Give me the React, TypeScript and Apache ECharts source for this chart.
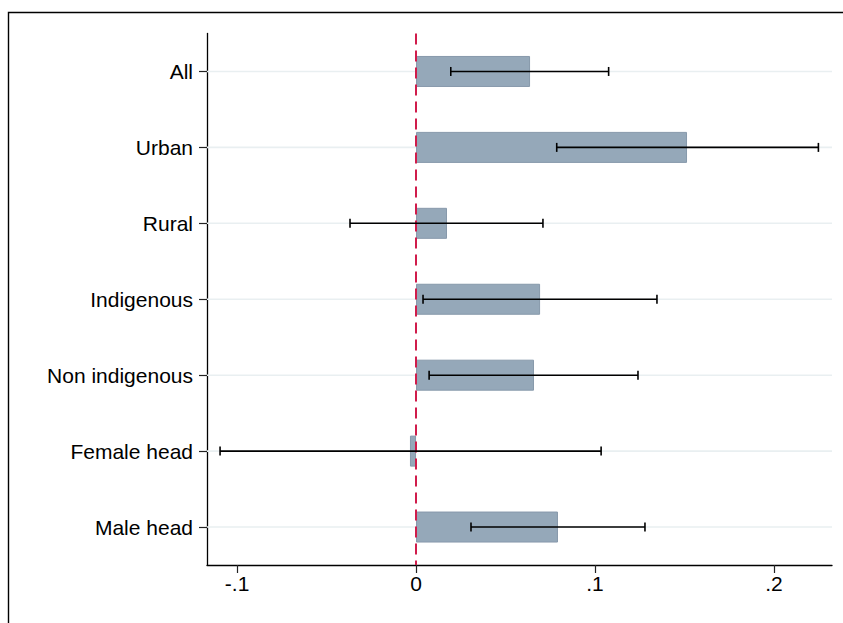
import React, { useEffect, useRef } from "react";
import * as echarts from "echarts";

const categories = ["All", "Urban", "Rural", "Indigenous", "Non indigenous", "Female head", "Male head"];
const estimates = [0.0637, 0.1514, 0.0173, 0.0693, 0.0659, -0.0034, 0.0793];
const lowerCI = [0.0194, 0.0786, -0.0369, 0.0039, 0.0073, -0.1095, 0.0307];
const upperCI = [0.1076, 0.2248, 0.0709, 0.1346, 0.124, 0.1034, 0.1279];
const xTicks = [-0.1, 0, 0.1, 0.2];
const xTickLabels = ["-.1", "0", ".1", ".2"];

const FONT = "'Liberation Sans', Arial, Helvetica, sans-serif";

export default function App() {
  const ref = useRef<HTMLDivElement>(null);
  useEffect(() => {
    if (!ref.current) return;
    const chart = echarts.init(ref.current, null, { renderer: "svg" });
    const option: any = {
      animation: false,
      backgroundColor: "#ffffff",
      grid: { left: 207, right: 11, top: 33.5, bottom: 58, containLabel: false },
      xAxis: {
        type: "value",
        min: -0.1168,
        max: 0.2324,
        splitLine: { show: false },
        axisLine: { show: true, onZero: false, lineStyle: { color: "#000", width: 1.3 } },
        axisTick: { show: true, length: 8, lineStyle: { color: "#222", width: 1.2 }, customValues: xTicks },
        axisLabel: {
          customValues: xTicks,
          margin: 8,
          fontSize: 21,
          fontFamily: FONT,
          color: "#000",
          formatter: (v: number) => {
            const i = xTicks.findIndex((t) => Math.abs(t - v) < 1e-9);
            return i >= 0 ? xTickLabels[i] : "";
          },
        },
      },
      yAxis: {
        type: "category",
        data: categories,
        inverse: true,
        axisLine: { show: true, onZero: false, lineStyle: { color: "#000", width: 1.3 } },
        axisTick: { show: true, alignWithLabel: true, length: 8, lineStyle: { color: "#222", width: 1.2 } },
        axisLabel: { margin: 14, fontSize: 21, fontFamily: FONT, color: "#000" },
        splitLine: { show: false },
      },
      graphic: [
        {
          type: "rect",
          shape: { x: 8.5, y: 12.5, width: 1000, height: 1000 },
          style: { fill: "none", stroke: "#000", lineWidth: 1.4 },
          silent: true,
        },
      ],
      series: [
        {
          type: "custom",
          z: 1,
          renderItem: (params: any, api: any) => {
            const idx = api.value(0);
            const p = api.coord([0, idx]);
            const cs = params.coordSys;
            return {
              type: "line",
              shape: { x1: cs.x, y1: p[1], x2: cs.x + cs.width, y2: p[1] },
              style: { stroke: "#e9eff1", lineWidth: 1.6 },
            };
          },
          data: categories.map((_, i) => [i]),
          encode: { y: 0 },
          silent: true,
        },
        {
          type: "bar",
          z: 2,
          data: estimates,
          barWidth: 31,
          itemStyle: { color: "#95a8b9", borderColor: "#8799ab", borderWidth: 1 },
          markLine: {
            silent: true,
            symbol: "none",
            label: { show: false },
            lineStyle: { color: "#d01c4b", width: 2, type: [11, 6] },
            data: [{ xAxis: 0 }],
            z: 3,
          },
        },
        {
          type: "custom",
          z: 5,
          renderItem: (params: any, api: any) => {
            const idx = api.value(0);
            const lo = api.coord([api.value(1), idx]);
            const hi = api.coord([api.value(2), idx]);
            const h = 4.5;
            const st = { stroke: "#000", lineWidth: 1.6 };
            return {
              type: "group",
              children: [
                { type: "line", shape: { x1: lo[0], y1: lo[1], x2: hi[0], y2: hi[1] }, style: st },
                { type: "line", shape: { x1: lo[0], y1: lo[1] - h, x2: lo[0], y2: lo[1] + h }, style: st },
                { type: "line", shape: { x1: hi[0], y1: hi[1] - h, x2: hi[0], y2: hi[1] + h }, style: st },
              ],
            };
          },
          data: categories.map((_, i) => [i, lowerCI[i], upperCI[i]]),
          encode: { y: 0, x: [1, 2] },
          silent: true,
        },
      ],
    };
    chart.setOption(option);
    return () => chart.dispose();
  }, []);
  return (
    <div
      ref={ref}
      style={{ position: "fixed", left: 0, top: 0, width: 843, height: 623, background: "#fff" }}
    />
  );
}
